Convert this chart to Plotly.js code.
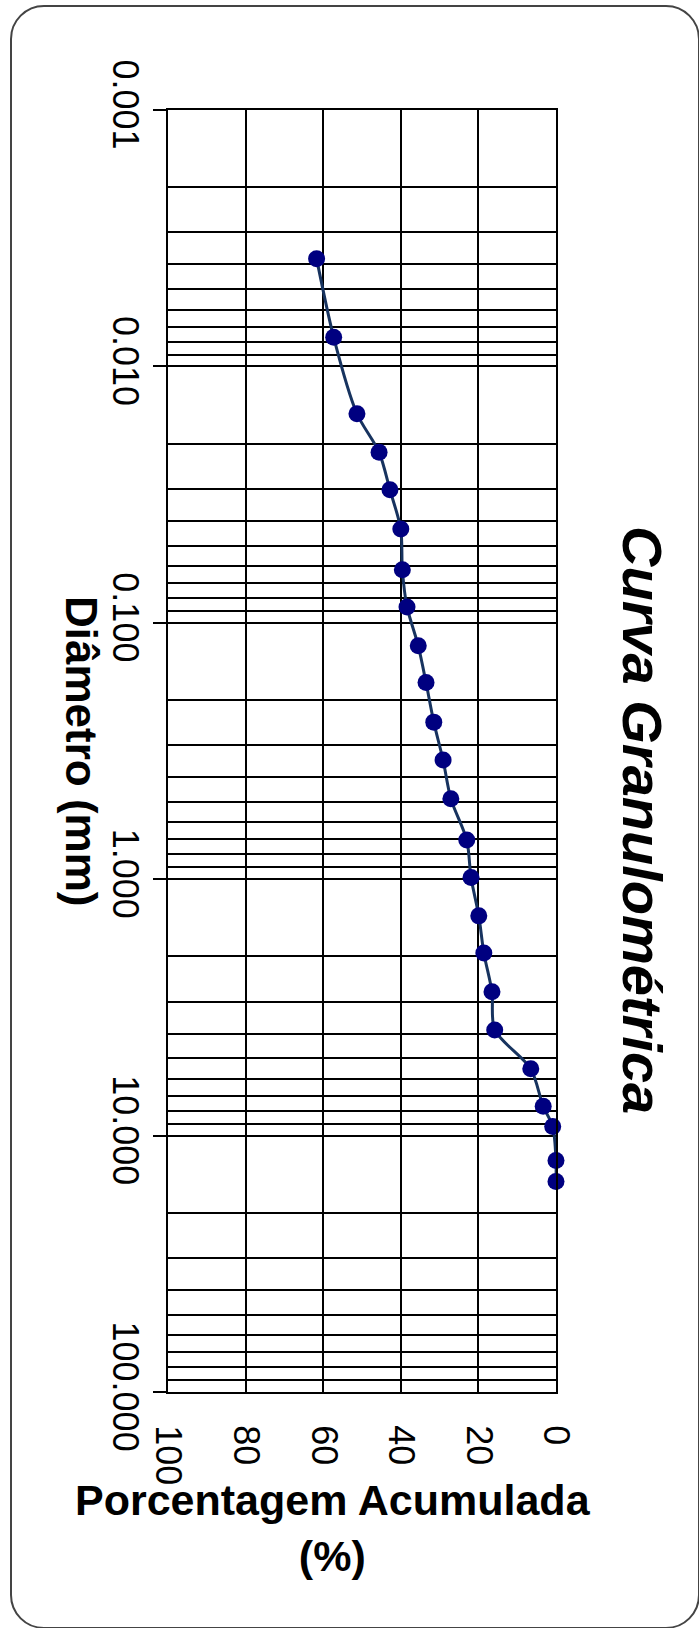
<!DOCTYPE html>
<html>
<head>
<meta charset="utf-8">
<script src="https://cdn.plot.ly/plotly-3.0.1.min.js"></script>
<style>
  html, body { margin: 0; padding: 0; background: #ffffff; overflow: hidden; }
  #frame { position: absolute; left: 10px; top: 5px; width: 690px; height: 1624px;
           border: 2px solid #444444; border-radius: 34px; box-sizing: border-box; }
  #chart { position: absolute; left: 0; top: 0; width: 699px; height: 1628px; }
</style>
</head>
<body>
<div id="frame"></div>
<div id="chart"></div>
<script>
// Diameter (mm) of each point
const diameters = [0.0038, 0.0077, 0.0153, 0.0216, 0.0303, 0.0431, 0.0621, 0.0867,
                   0.123, 0.171, 0.244, 0.343, 0.486, 0.703, 0.985, 1.39, 1.94, 2.75,
                   3.87, 5.49, 7.69, 9.21, 12.5, 15.1];
// Cumulative percentage (%)
const percentages = [61.7, 57.3, 51.3, 45.6, 42.8, 40.0, 39.6, 38.4,
                     35.5, 33.5, 31.5, 29.1, 27.1, 23.0, 21.9, 19.9, 18.6, 16.5,
                     15.8, 6.5, 3.3, 0.85, 0, 0];
// Axis tick labels
const diamTickVals = [0.001, 0.01, 0.1, 1, 10, 100];
const diamTickText = ["0.001", "0.010", "0.100", "1.000", "10.000", "100.000"];
const pctTickVals = [100, 80, 60, 40, 20, 0];
const pctTickText = ["100", "80", "60", "40", "20", "0"];

const chartTitle = "Curva Granulométrica";
const yTitle = "Diâmetro (mm)";
const xTitle = "Porcentagem Acumulada<br>(%)";

// minor log gridlines (2..9 within each decade)
const minorVals = [];
for (let e = -3; e < 2; e++) {
  for (let k = 2; k <= 9; k++) minorVals.push(k * Math.pow(10, e));
}

const FONT = "'Liberation Sans', Arial, sans-serif";

const trace = {
  x: percentages,
  y: diameters,
  type: 'scatter',
  mode: 'lines+markers',
  line: { color: '#17335F', width: 3, shape: 'spline', smoothing: 0.8 },
  marker: { color: '#000080', size: 17 },
  cliponaxis: false,
  hoverinfo: 'x+y'
};

const L = 168, R = 556, T = 110, B = 1392;
const W = 699, H = 1628;
function px2paperX(p) { return (p - L) / (R - L); }
function px2paperY(p) { return (B - p) / (B - T); }

const layout = {
  width: W, height: H,
  margin: { l: L, r: W - R, t: T, b: H - B, pad: 0 },
  paper_bgcolor: 'rgba(0,0,0,0)',
  plot_bgcolor: 'rgba(0,0,0,0)',
  showlegend: false,
  font: { family: FONT, color: '#000000' },
  xaxis: {
    range: [100, 0],
    tickmode: 'array', tickvals: pctTickVals, ticktext: pctTickText,
    tickangle: 90,
    tickfont: { family: FONT, size: 36, color: '#000' },
    ticks: '',
    ticklabelstandoff: 24,
    showgrid: true, gridcolor: '#000', gridwidth: 2,
    showline: true, linecolor: '#000', linewidth: 2, mirror: true,
    zeroline: false, fixedrange: true
  },
  yaxis: {
    type: 'log',
    range: [2, -3],
    tickmode: 'array', tickvals: diamTickVals, ticktext: diamTickText,
    tickangle: 90,
    tickfont: { family: FONT, size: 36, color: '#000' },
    ticks: 'outside', ticklen: 13, tickwidth: 2, tickcolor: '#000',
    ticklabelstandoff: -3,
    showgrid: true, gridcolor: '#000', gridwidth: 2,
    minor: { tickmode: 'array', tickvals: minorVals, showgrid: true,
             gridcolor: '#000', gridwidth: 2, ticks: '' },
    showline: true, linecolor: '#000', linewidth: 2, mirror: true,
    zeroline: false, fixedrange: true
  },
  annotations: [
    {
      text: '<b><i>' + chartTitle + '</i></b>',
      xref: 'paper', yref: 'paper',
      x: px2paperX(643), y: px2paperY(820),
      xanchor: 'center', yanchor: 'middle',
      textangle: 90, showarrow: false,
      font: { family: FONT, size: 56, color: '#000' }
    },
    {
      text: '<b>' + yTitle + '</b>',
      xref: 'paper', yref: 'paper',
      x: px2paperX(82), y: px2paperY(751),
      xanchor: 'center', yanchor: 'middle',
      textangle: 90, showarrow: false,
      font: { family: FONT, size: 44, color: '#000' }
    },
    {
      text: '<b>' + xTitle + '</b>',
      xref: 'paper', yref: 'paper',
      x: px2paperX(333), y: px2paperY(1528),
      xanchor: 'center', yanchor: 'middle',
      showarrow: false,
      font: { family: FONT, size: 43, color: '#000' }
    }
  ]
};

Plotly.newPlot('chart', [trace], layout, { staticPlot: true, displayModeBar: false });
</script>
</body>
</html>
